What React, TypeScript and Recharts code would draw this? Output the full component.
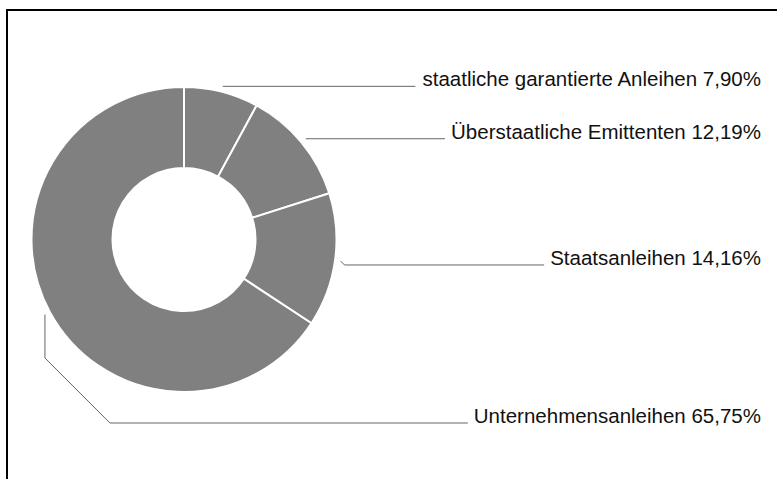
import React from "react";
import { PieChart, Pie, Cell } from "recharts";

const categories = [
  "staatliche garantierte Anleihen",
  "Überstaatliche Emittenten",
  "Staatsanleihen",
  "Unternehmensanleihen",
];
const shares = [7.9, 12.19, 14.16, 65.75];

const data = categories.map((name, i) => ({ name, value: shares[i] }));

const FONT = "'Liberation Sans', Arial, Helvetica, sans-serif";
const FONT_SIZE = 20.5;
const TEXT_RIGHT = 761;
const RAD = Math.PI / 180;

let ctx: CanvasRenderingContext2D | null = null;
function measure(text: string): number {
  if (!ctx) {
    const c = document.createElement("canvas");
    ctx = c.getContext("2d");
  }
  if (!ctx) return text.length * FONT_SIZE * 0.5;
  ctx.font = `${FONT_SIZE}px ${FONT}`;
  return ctx.measureText(text).width;
}

const fmt = (v: number) => v.toFixed(2).replace(".", ",") + "%";

const renderLabel = (props: any) => {
  const { cx, cy, midAngle, outerRadius, index, name, value } = props;
  const r = outerRadius + 5.5;
  const px = cx + Math.cos(-midAngle * RAD) * r;
  const py = cy + Math.sin(-midAngle * RAD) * r;
  const text = `${name} ${fmt(value)}`;
  const w = measure(text);
  const textX = TEXT_RIGHT - w;
  const lineEnd = textX - 6;
  let points: string;
  let ty: number;
  if (px >= cx) {
    const elbow = index === 2 ? 4 : 0;
    ty = py + elbow;
    points = `${px},${py} ${px + elbow},${ty} ${lineEnd},${ty}`;
  } else {
    ty = cy + outerRadius + 31;
    const diag = 65;
    points = `${px},${py} ${px},${ty - diag} ${px + diag},${ty} ${lineEnd},${ty}`;
  }
  return (
    <g key={`lbl-${index}`}>
      <polyline points={points} fill="none" stroke="#666" strokeWidth={1} />
      <text
        x={TEXT_RIGHT}
        y={ty}
        textAnchor="end"
        fontFamily={FONT}
        fontSize={FONT_SIZE}
        fill="#111"
      >
        {text}
      </text>
    </g>
  );
};

export default function App() {
  return (
    <div style={{ position: "absolute", left: 0, top: 0, width: 777, height: 479, background: "#fff", overflow: "hidden" }}>
      <div
        style={{
          position: "absolute",
          left: 6,
          top: 9,
          width: 800,
          height: 500,
          borderLeft: "2px solid #000",
          borderTop: "2px solid #000",
        }}
      />
      <div style={{ position: "absolute", left: 0, top: 0 }}>
        <PieChart width={777} height={479} margin={{ top: 0, right: 0, bottom: 0, left: 0 }}>
          <Pie
            data={data}
            dataKey="value"
            nameKey="name"
            cx={184}
            cy={239.5}
            innerRadius={71.5}
            outerRadius={152.5}
            startAngle={90}
            endAngle={-270}
            stroke="#fff"
            strokeWidth={2}
            label={renderLabel}
            labelLine={false}
            isAnimationActive={false}
          >
            {data.map((d, i) => (
              <Cell key={d.name} fill="#808080" />
            ))}
          </Pie>
        </PieChart>
      </div>
    </div>
  );
}
